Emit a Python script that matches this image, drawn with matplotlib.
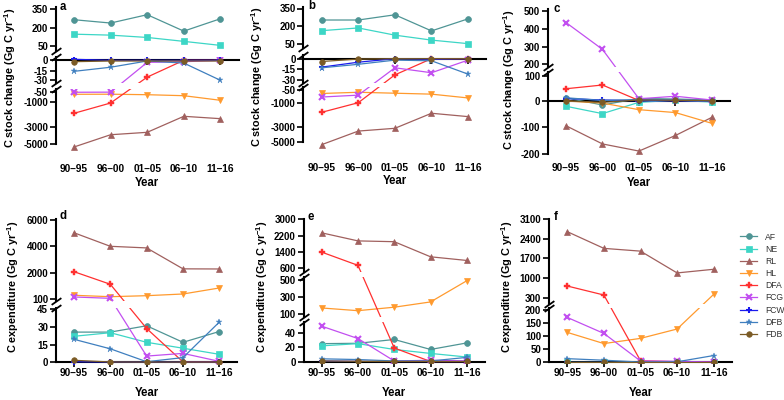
import numpy as np
import matplotlib
matplotlib.use('Agg')
import matplotlib.pyplot as plt
from matplotlib.lines import Line2D
from matplotlib.ticker import NullLocator

plt.rcParams['font.family'] = ['Liberation Sans', 'DejaVu Sans']
plt.rcParams['axes.unicode_minus'] = False
plt.rcParams['mathtext.fontset'] = 'custom'
plt.rcParams['mathtext.bf'] = 'Liberation Sans:bold'
plt.rcParams['mathtext.rm'] = 'Liberation Sans:bold'

# ---------------- data ----------------
periods = ['90–95', '96–00', '01–05', '06–10', '11–16']
series = ['AF', 'NE', 'RL', 'HL', 'DFA', 'FCG', 'FCW', 'DFB', 'FDB']

# panel a: C stock change
AF_a = [265, 238, 306, 172, 273]
NE_a = [147, 139, 120, 88, 55]
RL_a = [-5360, -3890, -3600, -2120, -2310]
HL_a = [-283, -275, -319, -408, -820]
DFA_a = [-1880, -1056, -25, 0, 0]
FCG_a = [-100, -90, -3, -2, 0]
FCW_a = [1.5, 0, 0, 0, 0]
DFB_a = [-16, -10, -1, -4, -30]
FDB_a = [-2, -1, -1, -1, -1]

# panel b
AF_b = [253, 253, 297, 161, 263]
NE_b = [163, 186, 125, 83, 53]
RL_b = [-5350, -3570, -3210, -1880, -2160]
HL_b = [-310, -220, -290, -360, -645]
DFA_b = [-1800, -1000, -23, 0, 0]
FCG_b = [-575, -435, -13, -20, -2]
FCW_b = [-12, -5, 0, -1, 0]
DFB_b = [-13, -8, -2, -3, -22]
FDB_b = [-4, -0.5, 0, 0, 0]

# panel c
AF_c = [12, -15, 10, 8, 4]
NE_c = [-20, -48, -5, 3, -4]
RL_c = [-94, -163, -190, -131, -62]
HL_c = [0, -8, -33, -44, -85]
DFA_c = [49, 64, 2, 2, 2]
FCG_c = [436, 285, 9, 19, 4]
FCW_c = [10, 4, 1, 1, 0]
DFB_c = [13, 2, 6, 5, 1]
FDB_c = [0, -5, 4, 3, 1]

# panel d: C expenditure
AF_d = [25.5, 25.5, 30.8, 17, 26]
NE_d = [22, 25, 17, 12, 6.8]
RL_d = [5030, 4000, 3880, 2330, 2320]
HL_d = [375, 270, 345, 470, 915]
DFA_d = [2120, 1190, 28.5, 0.3, 0.3]
FCG_d = [250, 150, 5.3, 7.6, 0.8]
FCW_d = [0.5, 0.3, 0.2, 0.2, 0.2]
DFB_d = [19.5, 11.5, 0.5, 4, 34]
FDB_d = [1.7, 0.3, 0.2, 0.2, 0.2]

# panel e
AF_e = [25, 25.5, 30.7, 17, 26]
NE_e = [22, 25, 17, 11.5, 6.5]
RL_e = [2340, 1940, 1900, 1150, 970]
HL_e = [171, 139, 180, 242, 495]
DFA_e = [1380, 730, 19, 0.3, 0.3]
FCG_e = [49, 32, 1, 2, 1]
FCW_e = [0.8, 0.5, 0.3, 0.3, 0.3]
DFB_e = [4, 3, 1, 1, 6]
FDB_e = [1, 0.5, 0.3, 0.3, 0.3]

# panel f
AF_f = [0.5, 0.5, 0.5, 0.5, 0.5]
NE_f = [0.3, 0.3, 0.3, 0.3, 0.3]
RL_f = [2660, 2060, 1960, 1180, 1310]
HL_f = [115, 72, 92, 128, 420]
DFA_f = [715, 395, 6, 2, 1]
FCG_f = [172, 111, 5, 4, 1]
FCW_f = [0.2, 0.2, 0.2, 0.2, 0.2]
DFB_f = [14, 8, 1, 2, 26]
FDB_f = [0.3, 0.3, 0.3, 0.3, 0.3]

def collect(sfx):
    g = globals()
    return {s: g[s + '_' + sfx] for s in series}

# ---------------- styles ----------------
colors = {'AF': '#4f9595', 'NE': '#3dd6c6', 'RL': '#a0605e', 'HL': '#ff9a2e',
          'DFA': '#ff3030', 'FCG': '#c24ff0', 'FCW': '#1a1aee', 'DFB': '#3f7fbf',
          'FDB': '#7b5b25'}
markers = {'AF': ('o', 4.2, 0.5), 'NE': ('s', 4.0, 0.5), 'RL': ('^', 4.2, 0.5),
           'HL': ('v', 4.5, 0.5), 'DFA': ('P', 4.2, 0.3), 'FCG': ('x', 4.5, 1.5),
           'FCW': ('+', 5.0, 1.5), 'DFB': ('*', 5.0, 0.3), 'FDB': ('o', 4.0, 0.5)}

W, H = 784, 400
fig = plt.figure(figsize=(W / 100, H / 100), dpi=100)
TICK_FS = 7.0
CAT_FS = 7.3


def make_scale(knots):
    v = np.array([k[0] for k in knots], float)
    p = np.array([k[1] for k in knots], float)
    o = np.argsort(v)
    v, p = v[o], p[o]

    def fwd(x):
        x = np.asarray(x, float)
        y = np.interp(x, v, p)
        y = np.where(x < v[0], p[0] + (x - v[0]) * (p[1] - p[0]) / (v[1] - v[0]), y)
        y = np.where(x > v[-1], p[-1] + (x - v[-1]) * (p[-1] - p[-2]) / (v[-1] - v[-2]), y)
        return -y

    pp, vv = p[::-1], v[::-1]

    def inv(y):
        y = -np.asarray(y, float)
        x = np.interp(y, pp, vv)
        x = np.where(y < pp[0], vv[0] + (y - pp[0]) * (vv[1] - vv[0]) / (pp[1] - pp[0]), x)
        x = np.where(y > pp[-1], vv[-1] + (y - pp[-1]) * (vv[-1] - vv[-2]) / (pp[-1] - pp[-2]), x)
        return x

    return fwd, inv


def fmt(t):
    return str(int(t))


def panel(data, left, right, segs, knots, letter, letter_xy, ylabel, ylabel_xy,
          label_top, year_y):
    fwd, inv = make_scale(knots)
    axes = []
    for s in segs:
        ax = fig.add_axes([left / W, 1 - s['bot'] / H, (right - left) / W,
                           (s['bot'] - s['top']) / H])
        ax.set_yscale('function', functions=(fwd, inv))
        ax.set_xlim(-0.5, 4.5)
        lo, hi = float(inv(-s['bot'])), float(inv(-s['top']))
        ax.set_ylim(lo, hi)
        ax.patch.set_visible(False)
        for sp in ['top', 'right']:
            ax.spines[sp].set_visible(False)
        ax.spines['left'].set_linewidth(1.5)
        if 'lo_bound' in s:
            ax.spines['left'].set_bounds(s['lo_bound'], hi)
        if s.get('zero'):
            ax.spines['bottom'].set_position(('data', 0))
            ax.spines['bottom'].set_linewidth(1.5)
            ax.set_xticks(range(5))
            ax.tick_params(axis='x', length=3.5, width=1.2, labelbottom=False,
                           direction='out')
        else:
            ax.spines['bottom'].set_visible(False)
            ax.set_xticks([])
        ax.set_yticks(s['ticks'])
        ax.set_yticklabels([fmt(t) for t in s['ticks']], fontsize=TICK_FS,
                           fontweight='bold')
        ax.yaxis.set_minor_locator(NullLocator())
        ax.tick_params(axis='y', length=4, width=1.2, pad=1.5, direction='out')
        for name in series:
            m, ms, mew = markers[name]
            ax.plot(range(5), data[name], color=colors[name], lw=0.9, marker=m,
                    ms=ms, mew=mew, mec=colors[name], mfc=colors[name], zorder=3)
        axes.append(ax)
    # break marks
    brk = dict(marker=[(-1, -0.7), (1, 0.7)], markersize=7, linestyle='none',
               color='k', mec='k', mew=1.3, clip_on=False, zorder=5)
    for up, low in zip(axes[:-1], axes[1:]):
        up.plot([0], [0], transform=up.transAxes, **brk)
        low.plot([0], [1], transform=low.transAxes, **brk)
    # category labels
    lab = fig.add_axes([left / W, 1 - label_top / H, (right - left) / W, 0.001])
    lab.set_xlim(-0.5, 4.5)
    lab.set_xticks(range(5))
    lab.set_xticklabels(periods, fontsize=CAT_FS, fontweight='bold')
    lab.tick_params(axis='x', length=0, pad=0)
    lab.set_yticks([])
    for sp in lab.spines.values():
        sp.set_visible(False)
    lab.patch.set_visible(False)
    fig.text((left + right) / 2 / W, 1 - year_y / H, 'Year', fontsize=8.3,
             fontweight='bold', ha='center', va='center')
    fig.text(letter_xy[0] / W, 1 - letter_xy[1] / H, letter, fontsize=8.3,
             fontweight='bold', ha='left', va='center')
    fig.text(ylabel_xy[0] / W, 1 - ylabel_xy[1] / H, ylabel, fontsize=7.8,
             fontweight='bold', rotation=90, ha='center', va='center')


YL_STOCK = 'C stock change (Gg C yr$^{\\mathbf{-1}}$)'
YL_EXP = 'C expenditure (Gg C yr$^{\\mathbf{-1}}$)'

# panel a
panel(collect('a'), 55.7, 238.7,
      [dict(top=7, bot=51, ticks=[50, 200, 350]),
       dict(top=57, bot=83, ticks=[-30, -15, 0], zero=True),
       dict(top=89, bot=150, ticks=[-5000, -3000, -1000, -50], lo_bound=-5000)],
      [(-5720, 150), (-5000, 144), (-3000, 127.3), (-1000, 102.3), (-50, 91.7), (-45, 89),
       (-34, 83), (-30, 80.3), (-15, 70.7), (0, 60.3), (5, 57),
       (9, 51), (50, 46), (200, 27.7), (350, 9.3), (369, 7)],
      'a', (60, 7), YL_STOCK, (10, 77.5), 164.5, 182.5)

# panel b
panel(collect('b'), 303.4, 486.4,
      [dict(top=6.5, bot=48, ticks=[50, 200, 350]),
       dict(top=55, bot=82.5, ticks=[-30, -15, 0], zero=True),
       dict(top=87, bot=148, ticks=[-5000, -3000, -1000, -50], lo_bound=-5000)],
      [(-5790, 148), (-5000, 142), (-3000, 126.7), (-1000, 102.7), (-50, 90), (-46, 87),
       (-33.5, 82.5), (-30, 79.8), (-15, 69.2), (0, 58.7), (5.5, 55),
       (16, 48), (50, 44), (200, 26.3), (350, 8.5), (367, 6.5)],
      'b', (308, 6), YL_STOCK, (257, 77), 163.5, 181)

# panel c
panel(collect('c'), 547.7, 730.2,
      [dict(top=9, bot=66.7, ticks=[200, 300, 400, 500]),
       dict(top=72.3, bot=155, ticks=[-200, -100, 0, 100], zero=True, lo_bound=-200)],
      [(-205, 155), (-200, 153.7), (-100, 127.3), (0, 101), (100, 76), (114, 72.3),
       (186.5, 66.7), (200, 64.3), (300, 46.7), (400, 29), (500, 11), (511, 9)],
      'c', (553, 9), YL_STOCK, (509, 80), 163.5, 182.7)

# panel d
panel(collect('d'), 55.8, 237.5,
      [dict(top=219, bot=300.5, ticks=[100, 2000, 4000, 6000]),
       dict(top=308, bot=363.5, ticks=[0, 15, 30, 45], zero=True, lo_bound=0)],
      [(-1.0, 363.5), (0, 362.3), (15, 344.7), (30, 326.7), (45, 309.3), (46.1, 308),
       (95, 300.5), (100, 299), (2000, 273.3), (4000, 246.3), (6000, 220), (6075, 219)],
      'd', (60, 216), YL_EXP, (13, 287), 368.5, 393)

# panel e
panel(collect('e'), 303.5, 485,
      [dict(top=219, bot=272, ticks=[600, 1400, 2200, 3000]),
       dict(top=277.3, bot=316.7, ticks=[100, 300, 500]),
       dict(top=321.7, bot=363, ticks=[0, 20, 40], zero=True, lo_bound=0)],
      [(-1.8, 363), (0, 361.7), (20, 347.3), (40, 332.7), (55.2, 321.7), (68, 316.7),
       (100, 314), (300, 297), (500, 280.3), (536, 277.3), (585, 272), (600, 268),
       (1400, 251.7), (2200, 235.7), (3000, 219.3), (3015, 219)],
      'e', (308, 217), YL_EXP, (262, 287), 368.5, 393)

# panel f
panel(collect('f'), 549, 732,
      [dict(top=219, bot=303.5, ticks=[300, 1000, 1700, 2400, 3100]),
       dict(top=307.7, bot=363, ticks=[0, 50, 100, 150, 200], zero=True, lo_bound=0)],
      [(-2.7, 363), (0, 362.3), (50, 349.3), (100, 336.3), (150, 323.3), (200, 310),
       (208.8, 307.7), (270, 303.5), (300, 297.7), (1000, 278), (1700, 258.3),
       (2400, 239), (3100, 219.3), (3111, 219)],
      'f', (554, 217), YL_EXP, (507, 287), 368.5, 393)

# legend
handles = []
for name in series:
    m, ms, mew = markers[name]
    handles.append(Line2D([], [], color=colors[name], lw=0.9, marker=m, ms=ms, mew=mew,
                          mec=colors[name], mfc=colors[name]))
fig.legend(handles, series, loc='upper left', bbox_to_anchor=(740 / W, 1 - 232.5 / H),
           frameon=False, fontsize=6.2, handlelength=2.0, handletextpad=0.95,
           labelspacing=0.37, borderpad=0, borderaxespad=0, labelcolor='#333333')

fig.savefig('out.png', dpi=100)
